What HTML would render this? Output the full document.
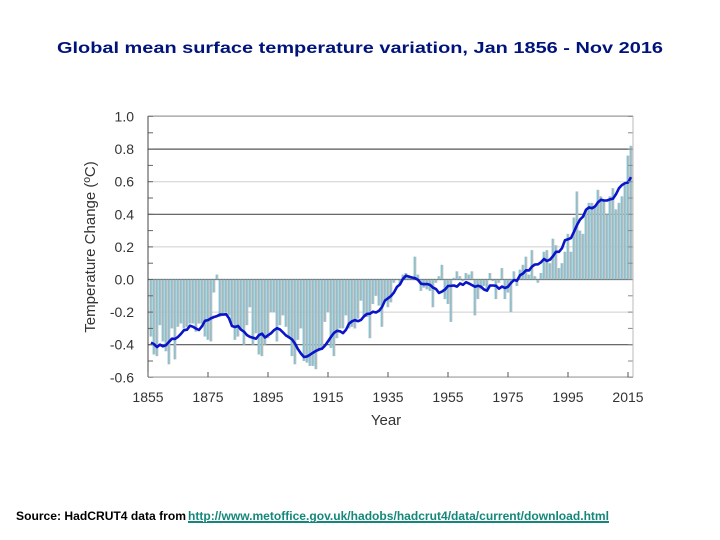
<!DOCTYPE html>
<html><head><meta charset="utf-8"><style>
html,body{margin:0;padding:0;background:#fff;width:720px;height:540px;overflow:hidden}
svg{display:block;font-family:"Liberation Sans",Arial,sans-serif}
</style></head><body>
<svg id="chart" width="720" height="540" viewBox="0 0 720 540">
<text x="360" y="53" text-anchor="middle" font-size="16" font-weight="bold" fill="#00137a" textLength="606" lengthAdjust="spacingAndGlyphs">Global mean surface temperature variation, Jan 1856 - Nov 2016</text>
<g id="grid"></g>
<g id="bars"></g>
<path id="smooth" fill="none" stroke="#0a14c8" stroke-width="2.6" stroke-linejoin="round"></path>
<g id="axes"></g>
<text transform="translate(95,247) rotate(-90)" text-anchor="middle" font-size="15" fill="#333">Temperature Change (ºC)</text>
<text x="386" y="425" text-anchor="middle" font-size="15" fill="#333">Year</text>
<text x="16" y="520" font-size="12" font-weight="bold" fill="#000" textLength="170" lengthAdjust="spacingAndGlyphs">Source: HadCRUT4 data from</text>
<text x="188" y="520" font-size="12" font-weight="bold" fill="#14877a" text-decoration="underline" textLength="421" lengthAdjust="spacingAndGlyphs">http://www.metoffice.gov.uk/hadobs/hadcrut4/data/current/download.html</text>
<line x1="188" y1="522.5" x2="609" y2="522.5" stroke="#14877a" stroke-width="1"/>
</svg>
<script>
const startYear = 1856;
const anomalies = [-0.35,-0.46,-0.47,-0.28,-0.38,-0.44,-0.52,-0.30,-0.49,-0.29,
-0.27,-0.30,-0.29,-0.27,-0.27,-0.32,-0.27,-0.27,-0.35,-0.37,
-0.38,-0.08,0.03,-0.23,-0.22,-0.20,-0.22,-0.27,-0.37,-0.35,
-0.31,-0.40,-0.28,-0.17,-0.40,-0.33,-0.46,-0.47,-0.40,-0.36,
-0.20,-0.20,-0.38,-0.28,-0.22,-0.29,-0.36,-0.47,-0.52,-0.37,
-0.30,-0.50,-0.51,-0.53,-0.53,-0.55,-0.44,-0.42,-0.26,-0.20,
-0.42,-0.47,-0.36,-0.30,-0.30,-0.22,-0.30,-0.29,-0.30,-0.24,
-0.13,-0.23,-0.23,-0.36,-0.15,-0.10,-0.16,-0.29,-0.13,-0.17,
-0.14,-0.02,0.00,-0.03,0.03,0.04,0.01,0.01,0.14,0.03,
-0.07,-0.05,-0.06,-0.07,-0.17,-0.02,0.02,0.09,-0.12,-0.15,
-0.26,0.01,0.05,0.02,-0.01,0.04,0.03,0.05,-0.22,-0.12,
-0.06,-0.04,-0.07,0.04,-0.01,-0.12,-0.02,0.07,-0.12,-0.08,
-0.20,0.05,-0.04,0.06,0.09,0.14,0.03,0.18,0.02,-0.02,
0.04,0.17,0.18,0.10,0.25,0.21,0.07,0.10,0.17,0.28,
0.17,0.38,0.54,0.30,0.28,0.42,0.47,0.47,0.44,0.55,
0.51,0.49,0.40,0.51,0.56,0.43,0.47,0.51,0.58,0.76,0.82];
const yTicks = [1.0,0.8,0.6,0.4,0.2,0.0,-0.2,-0.4,-0.6];
const yTickLabels = ["1.0","0.8","0.6","0.4","0.2","0.0","-0.2","-0.4","-0.6"];
const xTicks = [1855,1875,1895,1915,1935,1955,1975,1995,2015];

const NS='http://www.w3.org/2000/svg';
const X0=148, X1=633, Y0=116, Y1=377;
const xs = yr => 148 + (yr-1855)*3;
const ys = v => 279.5 - v*163;
function mk(tag, attrs, parent){const e=document.createElementNS(NS,tag);for(const k in attrs)e.setAttribute(k,attrs[k]);parent.appendChild(e);return e;}
const grid=document.getElementById('grid'), bars=document.getElementById('bars'), axes=document.getElementById('axes');

yTicks.forEach((v,i)=>{
  const y=ys(v);
  const dark = Math.abs(Math.round(v*10))%4===0;
  const gl = mk('line',{x1:X0,x2:X1,y1:y,y2:y,stroke:dark?'#555':'#cfcfcf','stroke-width':dark?1.2:1},grid);
  
  
  const t = mk('text',{x:134,y:y+5,'text-anchor':'end','font-size':14,fill:'#333'},axes);
  t.textContent = yTickLabels[i];
  
  
});
for(let k=-6;k<=10;k++){
  const y=ys(k/10);
  mk('line',{x1:X0,x2:X0+5,y1:y,y2:y,stroke:'#666'},axes);
  mk('line',{x1:X1-5,x2:X1,y1:y,y2:y,stroke:'#888'},axes);
}

anomalies.forEach((v,i)=>{
  const x=xs(startYear+i);
  const y=ys(Math.max(v,0)), h=Math.abs(ys(v)-ys(0));
  const r = mk('rect',{x:x-1.3,y:y,width:2.6,height:Math.max(h,0.5),fill:'#b8bcbf'},bars);
  
  
  mk('rect',{x:x-1.3,y:y,width:1,height:Math.max(h,0.5),fill:'#72c6da'},bars);
});

const half=4;
let d='';
anomalies.forEach((v,i)=>{
  let s=0,n=0;
  for(let j=i-half;j<=i+half;j++){ if(j>=0&&j<anomalies.length){s+=anomalies[j];n++;} }
  const x=xs(startYear+i), y=ys(s/n);
  d += (i?'L':'M')+x.toFixed(1)+' '+y.toFixed(1);
});
document.getElementById('smooth').setAttribute('d',d);

mk('line',{x1:X0,x2:X0,y1:Y0,y2:Y1,stroke:'#444'},axes);
mk('line',{x1:X1,x2:X1,y1:Y0,y2:Y1,stroke:'#bbb'},axes);
mk('line',{x1:X0,x2:X1,y1:Y0,y2:Y0,stroke:'#999'},axes);
mk('line',{x1:X0,x2:X1,y1:Y1,y2:Y1,stroke:'#999'},axes);
xTicks.forEach(yr=>{
  const x=xs(yr);
  mk('line',{x1:x,x2:x,y1:Y1-5,y2:Y1,stroke:'#555'},axes);
  const t=mk('text',{x:x,y:402,'text-anchor':'middle','font-size':14,fill:'#333'},axes);
  t.textContent=yr;
  
  
});
</script>
</body></html>
